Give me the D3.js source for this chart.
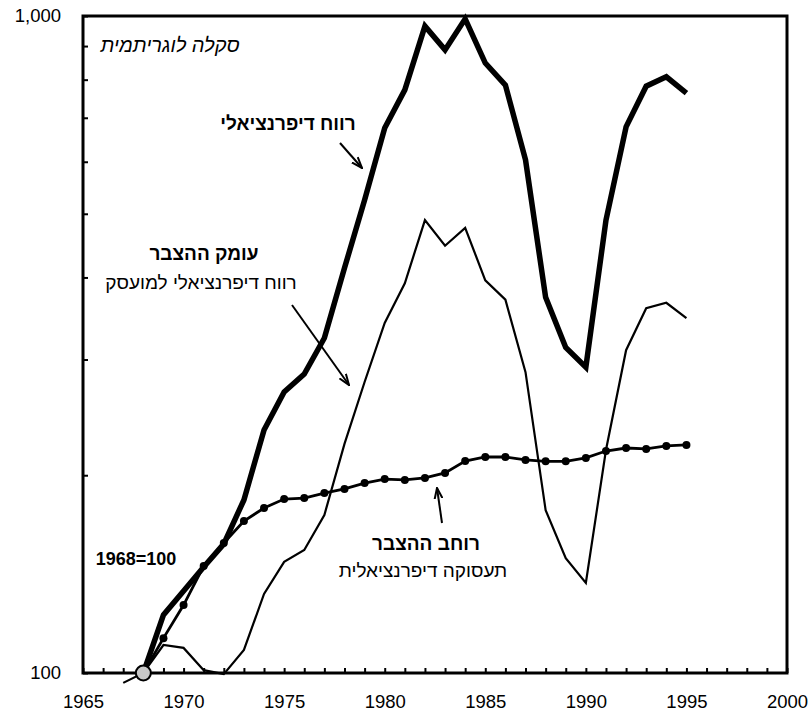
<!DOCTYPE html>
<html><head><meta charset="utf-8">
<script src="https://cdn.jsdelivr.net/npm/d3@7"></script>
<style>
body{margin:0;background:#fff;}
svg{display:block;font-family:"Liberation Sans",Arial,"DejaVu Sans",sans-serif;}
</style></head>
<body><svg id="c" width="811" height="714"></svg>
<script>
const years = [1967,1968,1969,1970,1971,1972,1973,1974,1975,1976,1977,1978,1979,1980,1981,1982,1983,1984,1985,1986,1987,1988,1989,1990,1991,1992,1993,1994,1995];
// רווח דיפרנציאלי (thick)
const profit = [null,100,122.6,133.3,145,157.2,183.4,234.4,267.7,285.1,323.5,413.4,524.8,675.2,772,965,888,990,848,785,604,373,313,292,489,678,782,808,763];
// רווח דיפרנציאלי למועסק (thin)
const profitPerEmployee = [96.6,100,110.3,109.2,101,99.6,108.4,131.9,147.6,153.9,174,223.2,277.3,341,392,489,447,476,396,370,287,177,149.6,137.1,218.5,310,359,366,347];
// תעסוקה דיפרנציאלית (with markers)
const employment = [null,100,113,126.9,145.5,157.7,170.3,178.3,184,184.6,187.9,190.6,194.6,197.3,196.7,198.1,201.6,210.2,213.2,213.2,211,210,210,212.5,217.7,220,219.3,221.6,222.4];
const yTicks = [100,200,300,400,500,600,700,800,900,1000];
const yLabels = [100,1000];
const xLabels = [1965,1970,1975,1980,1985,1990,1995,2000];
const baseYear = 1968, baseValue = 100;

const svg = d3.select("#c");
const L=83, R=787, T=16, B=673;
const x = d3.scaleLinear().domain([1965,2000]).range([L,R]);
const y = d3.scaleLog().domain([100,1000]).range([B,T]);

// axes
const xAxis = d3.axisBottom(x).tickValues(d3.range(1965,2001)).tickSize(-5).tickPadding(22)
  .tickFormat(d => xLabels.includes(d) ? String(d) : "");
const gx = svg.append("g").attr("transform",`translate(0,${B})`).call(xAxis);
gx.select(".domain").remove();
gx.selectAll(".tick line").attr("stroke","#000").attr("stroke-width",2);
gx.selectAll("text").attr("font-size",18.5).attr("fill","#000").attr("font-family","Liberation Sans, Arial, sans-serif");

const yAxis = d3.axisLeft(y).tickValues(yTicks).tickSize(-5).tickPadding(22)
  .tickFormat(d => yLabels.includes(d) ? d3.format(",")(d) : "");
const gy = svg.append("g").attr("transform",`translate(${L},0)`).call(yAxis);
gy.select(".domain").remove();
gy.selectAll(".tick line").attr("stroke","#000").attr("stroke-width",2);
gy.selectAll("text").attr("font-size",18.5).attr("fill","#000").attr("font-family","Liberation Sans, Arial, sans-serif");

// frame
svg.append("rect").attr("x",L).attr("y",T).attr("width",R-L).attr("height",B-T)
  .attr("fill","none").attr("stroke","#000").attr("stroke-width",3);

const mk = vals => years.map((yr,i)=>({yr, v: vals[i]}));
const line = d3.line().defined(d=>d.v!=null).x(d=>x(d.yr)).y(d=>y(d.v));

svg.append("path").datum(mk(profitPerEmployee)).attr("d",line)
  .attr("fill","none").attr("stroke","#000").attr("stroke-width",2.2).attr("stroke-linejoin","miter");
svg.append("path").datum(mk(employment)).attr("d",line)
  .attr("fill","none").attr("stroke","#000").attr("stroke-width",2.8);
svg.selectAll("circle.m").data(mk(employment).filter(d=>d.v!=null && d.yr>baseYear)).join("circle")
  .attr("class","m").attr("cx",d=>x(d.yr)).attr("cy",d=>y(d.v)).attr("r",4).attr("fill","#000");
svg.append("path").datum(mk(profit)).attr("d",line)
  .attr("fill","none").attr("stroke","#000").attr("stroke-width",5.5).attr("stroke-linejoin","miter");

// base point
svg.append("circle").attr("cx",x(baseYear)).attr("cy",y(baseValue)).attr("r",7.5)
  .attr("fill","#c8c8c8").attr("stroke","#000").attr("stroke-width",2);

// arrow marker
const defs = svg.append("defs");
defs.append("marker").attr("id","arr").attr("viewBox","0 0 12 10").attr("refX",11).attr("refY",5)
  .attr("markerWidth",12).attr("markerHeight",10).attr("markerUnits","userSpaceOnUse").attr("orient","auto")
  .append("path").attr("d","M0,1 L11,5 L0,9").attr("fill","none").attr("stroke","#000").attr("stroke-width",2);

function arrow(x1,y1,x2,y2){
  svg.append("line").attr("x1",x1).attr("y1",y1).attr("x2",x2).attr("y2",y2)
    .attr("stroke","#000").attr("stroke-width",2).attr("marker-end","url(#arr)");
}
function label(t,cx,cy,size,weight,style){
  svg.append("text").attr("x",cx).attr("y",cy).attr("text-anchor","middle").attr("dominant-baseline","central")
    .attr("font-size",size).attr("font-weight",weight||"normal").attr("font-style",style||"normal")
    .attr("fill","#000").text(t);
}

label("סקלה לוגריתמית",170,45,20,"normal","italic");
label("רווח דיפרנציאלי",288,123,19,"bold");
arrow(340,143,362,168);
label("עומק ההצבר",204,253,19,"bold");
label("רווח דיפרנציאלי למועסק",201,282,19,"normal");
arrow(292,305,349,385);
label("רוחב ההצבר",426,543,19,"bold");
label("תעסוקה דיפרנציאלית",423,570,19,"normal");
arrow(442,523,437,488);
label("1968=100",136,559,18,"bold");
</script></body></html>
